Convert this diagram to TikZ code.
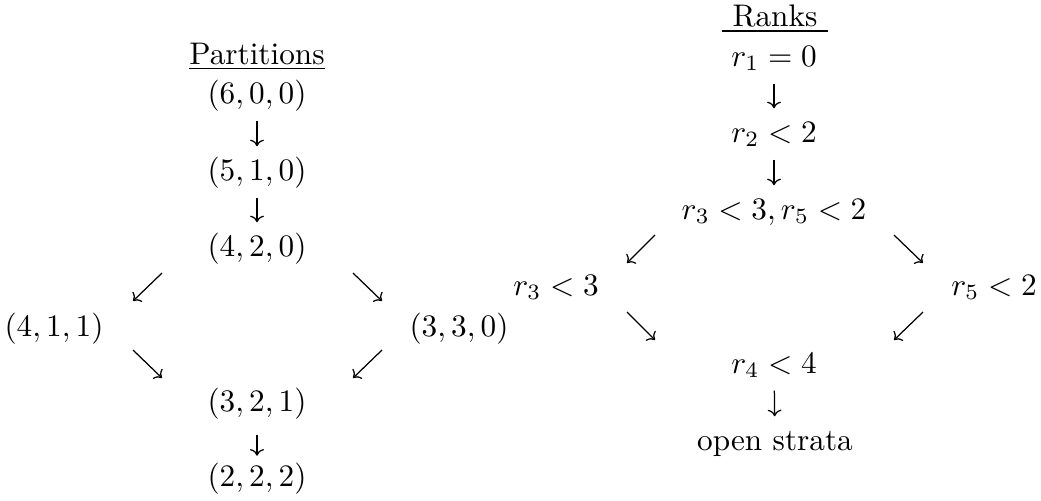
\documentclass[tikz,border=0pt]{standalone}
\usepackage{amsmath}
\usepackage{tikz}
\usetikzlibrary{arrows.meta}

\begin{document}
\begin{tikzpicture}[
  x=0.32pt,y=0.32pt,
  lab/.style={inner sep=0pt,text height=7.5pt,text depth=2.5pt,anchor=base},
  arr/.style={-{Computer Modern Rightarrow[scale=0.85]},line width=0.4pt},
  dn/.style={arr,shorten <=2.9pt,shorten >=3.1pt}
]
\useasboundingbox (0,0) rectangle (1041,500);

% partitions
\node[lab] (partHd) at (257,436) {\underline{Partitions}};
\node[lab] (p600) at (257,397) {$(6,0,0)$};
\node[lab] (p510) at (257,320) {$(5,1,0)$};
\node[lab] (p420) at (257,244) {$(4,2,0)$};
\node[lab] (p411) at (54,164) {$(4,1,1)$};
\node[lab] (p330) at (459,164) {$(3,3,0)$};
\node[lab] (p321) at (257,89) {$(3,2,1)$};
\node[lab] (p222) at (257,14) {$(2,2,2)$};

% ranks
\node[lab] (rankHd) at (775,474) {\underline{\ Ranks\ }};
\node[lab] (r1) at (774,434) {$r_1=0$};
\node[lab] (r2) at (774,358) {$r_2<2$};
\node[lab] (r35) at (774,281) {$r_3<3, r_5<2$};
\node[lab] (r3) at (556,205) {$r_3<3$};
\node[lab] (r5) at (994,205) {$r_5<2$};
\node[lab] (r4) at (774,127) {$r_4<4$};
\node[lab] (open) at (775,50) {open strata};

% ends of the slanted arrows
\foreach \nm/\x/\y in {a1/162/227,b1/133/199,a2/353/227,b2/382/199,
                       a3/133/150,b3/162/122,a4/382/150,b4/353/122,
                       c1/655/265,d1/627/237,c2/894/265,d2/923/237,
                       c3/627/188,d3/655/160,c4/923/188,d4/894/160}
  \coordinate (\nm) at (\x,\y);

\draw[dn] (p600)--(p510);
\draw[dn] (p510)--(p420);
\draw[arr] (a1)--(b1);
\draw[arr] (a2)--(b2);
\draw[arr] (a3)--(b3);
\draw[arr] (a4)--(b4);
\draw[arr,shorten <=5pt,shorten >=2pt] (p321)--(p222);

\draw[dn] (r1)--(r2);
\draw[dn] (r2)--(r35);
\draw[arr] (c1)--(d1);
\draw[arr] (c2)--(d2);
\draw[arr] (c3)--(d3);
\draw[arr] (c4)--(d4);
\draw[dn] (r4)--(open);
\end{tikzpicture}
\end{document}
